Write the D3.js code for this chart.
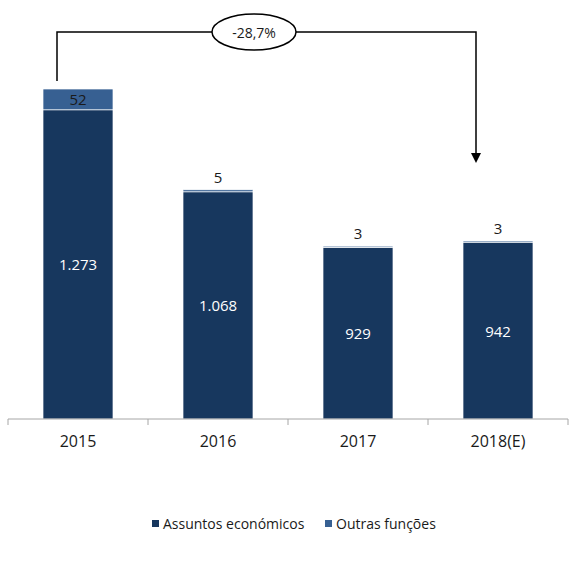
<!doctype html>
<meta charset="utf-8">
<title>Assuntos económicos vs Outras funções</title>
<script src="https://cdn.jsdelivr.net/npm/d3@7"></script>
<style>
  body { margin: 0; background: #fff; }
  text { font-family: "Open Sans", sans-serif; }
</style>
<div id="chart"></div>
<script>
  // dados
  const anos = ['2015', '2016', '2017', '2018(E)']
  const assuntos = [1273, 1068, 929, 942]
  const outras = [52, 5, 3, 3]
  const series = ['Assuntos económicos', 'Outras funções']
  const variacao = '-28,7%'

  const W = 569, H = 588
  const cores = ['#17375e', '#376092']

  const svg = d3.select('#chart')
    .append('svg')
    .attr('width', W)
    .attr('height', H)

  const x = d3.scaleBand()
    .domain(anos)
    .range([8, 568])
    .paddingInner(0)
    .paddingOuter(0)

  // eixo não começa em zero
  const y = d3.scaleLinear()
    .domain([500, 1400])
    .range([419, 59])

  const bw = x.bandwidth() / 2
  const bx = d => x(d) + (x.bandwidth() - bw) / 2

  const dados = anos.map((a, i) => ({ ano: a, a: assuntos[i], o: outras[i] }))

  // barras - assuntos económicos
  svg.selectAll('rect.a')
    .data(dados)
    .enter()
    .append('rect')
    .attr('class', 'a')
    .attr('x', d => bx(d.ano))
    .attr('y', d => y(d.a))
    .attr('width', bw)
    .attr('height', d => y(500) - y(d.a))
    .attr('fill', cores[0])
    .attr('stroke', '#fff')
    .attr('stroke-width', 0.7)

  // barras - outras funções
  svg.selectAll('rect.o')
    .data(dados)
    .enter()
    .append('rect')
    .attr('class', 'o')
    .attr('x', d => bx(d.ano))
    .attr('y', d => y(d.a + d.o))
    .attr('width', bw)
    .attr('height', d => y(d.a) - y(d.a + d.o))
    .attr('fill', cores[1])
    .attr('stroke', '#fff')
    .attr('stroke-width', 0.7)

  const fmt = v => d3.format(',')(v).replace(/,/g, '.')

  // rótulos dentro das barras
  svg.selectAll('text.va')
    .data(dados)
    .enter()
    .append('text')
    .attr('x', d => x(d.ano) + x.bandwidth() / 2)
    .attr('y', d => (y(d.a) + y(500)) / 2)
    .attr('text-anchor', 'middle')
    .attr('dominant-baseline', 'central')
    .attr('fill', '#fff')
    .style('font-size', '15px')
    .text(d => fmt(d.a))

  // rótulos outras funções
  svg.selectAll('text.vo')
    .data(dados)
    .enter()
    .append('text')
    .attr('x', d => x(d.ano) + x.bandwidth() / 2)
    .attr('y', d => {
      const h = y(d.a) - y(d.a + d.o)
      return h > 16 ? (y(d.a) + y(d.a + d.o)) / 2 : y(d.a + d.o) - 13
    })
    .attr('text-anchor', 'middle')
    .attr('dominant-baseline', 'central')
    .attr('fill', '#1a1a1a')
    .style('font-size', '15px')
    .text(d => fmt(d.o))

  // eixo x
  const axis = svg.append('g')
    .attr('transform', `translate(0, ${y(500)})`)
  axis.append('line')
    .attr('x1', 8).attr('x2', 568)
    .attr('stroke', '#a6a6a6')
  axis.selectAll('line.tk')
    .data([...anos.map(a => x(a)), x(anos[anos.length - 1]) + x.bandwidth()])
    .enter()
    .append('line')
    .attr('x1', d => d).attr('x2', d => d)
    .attr('y1', 0).attr('y2', 6)
    .attr('stroke', '#a6a6a6')
  axis.selectAll('text')
    .data(anos)
    .enter()
    .append('text')
    .attr('x', d => x(d) + x.bandwidth() / 2)
    .attr('y', 22)
    .attr('text-anchor', 'middle')
    .attr('dominant-baseline', 'central')
    .attr('fill', '#1a1a1a')
    .style('font-size', '16px')
    .text(d => d)

  // seta de variação
  const first = dados[0], last = dados[dados.length - 1]
  const x0 = bx(first.ano) + 14
  const x1 = bx(last.ano) + 13
  const yTop = 32
  const yStart = y(first.a + first.o) - 8
  const yEnd = y(last.a + last.o) - 78
  const ex = 254, rx = 42, ry = 18

  svg.append('path')
    .attr('d', `M${x0},${yStart}V${yTop}H${ex - rx}M${ex + rx},${yTop}H${x1}V${yEnd - 9}`)
    .attr('fill', 'none')
    .attr('stroke', '#000')
    .attr('stroke-width', 1.5)
  svg.append('path')
    .attr('d', `M${x1 - 5},${yEnd - 10}L${x1 + 5},${yEnd - 10}L${x1},${yEnd}Z`)
    .attr('fill', '#000')
  svg.append('ellipse')
    .attr('cx', ex).attr('cy', yTop)
    .attr('rx', rx).attr('ry', ry)
    .attr('fill', '#fff')
    .attr('stroke', '#000')
    .attr('stroke-width', 1.5)
  svg.append('text')
    .attr('x', ex).attr('y', yTop)
    .attr('text-anchor', 'middle')
    .attr('dominant-baseline', 'central')
    .attr('fill', '#1a1a1a')
    .style('font-size', '14px')
    .text(variacao)

  // legenda
  const leg = svg.append('g')
  const legX = [152, 325]
  series.forEach((s, i) => {
    leg.append('rect')
      .attr('x', legX[i]).attr('y', 520)
      .attr('width', 7).attr('height', 7)
      .attr('fill', cores[i])
    leg.append('text')
      .attr('x', legX[i] + 11).attr('y', 523.5)
      .attr('dominant-baseline', 'central')
      .attr('fill', '#1a1a1a')
      .style('font-size', '14px')
      .text(s)
  })
</script>
